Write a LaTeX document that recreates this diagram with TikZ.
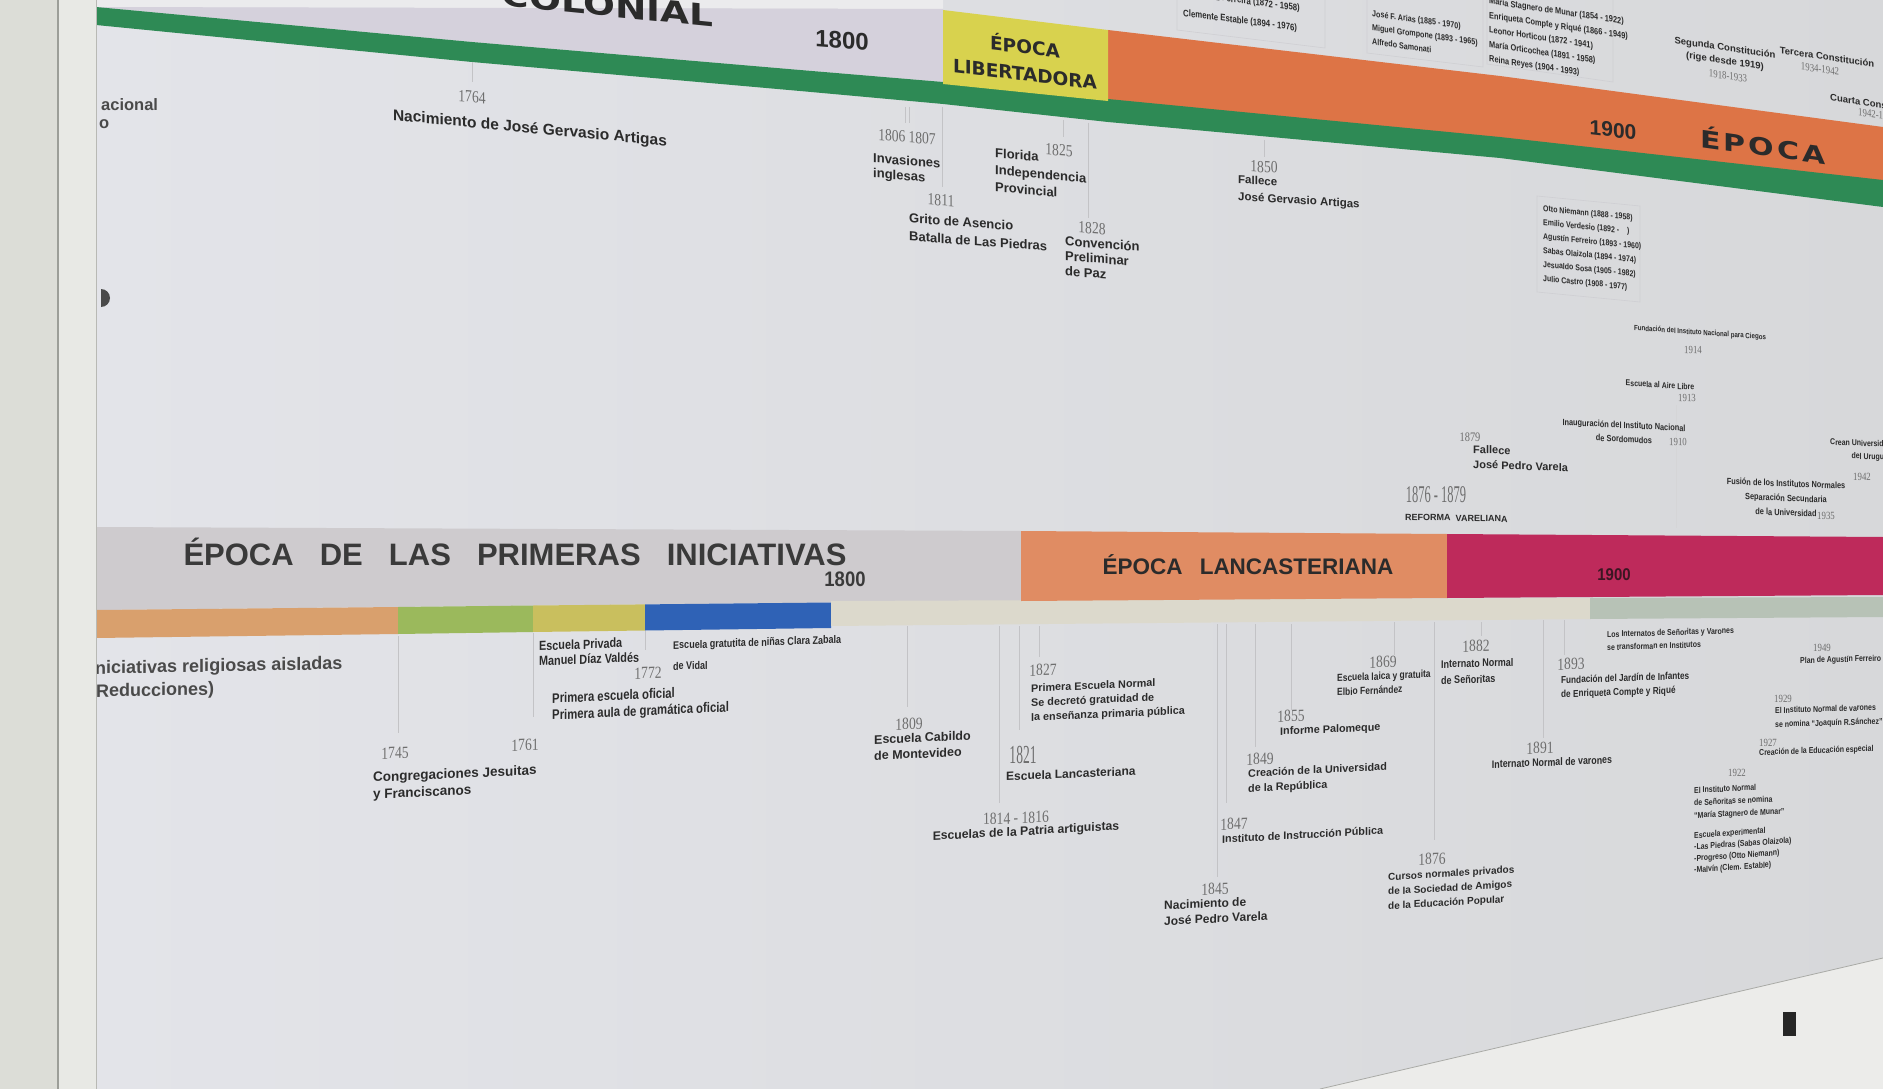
\documentclass[tikz,border=0pt]{standalone}
\usepackage{fontspec}
\usepackage{graphicx}
\setmainfont{Liberation Sans}
\newfontfamily\nar[FakeStretch=0.82]{Liberation Sans}
\newfontfamily\hdn[FakeStretch=0.88]{Liberation Sans}
\newfontfamily\yrf[FakeStretch=0.8]{Liberation Serif}
\newfontfamily\dvb{DejaVu Sans}
\newfontfamily\dvw[FakeStretch=1.25]{DejaVu Sans}
\newcommand\fsz[2]{\fontsize{#1}{#2}\selectfont}
\definecolor{wall}{HTML}{E6E7E3}
\definecolor{frameA}{HTML}{DCDDD7}
\definecolor{frameline}{HTML}{9C9E98}
\definecolor{frameB}{HTML}{E8E9E5}
\definecolor{frameedge}{HTML}{B8B9B4}
\definecolor{posterL}{HTML}{E3E4E9}
\definecolor{posterR}{HTML}{D7D8DA}
\definecolor{topw}{HTML}{EBEBED}
\definecolor{lav}{HTML}{D5D1DC}
\definecolor{yel}{HTML}{D8D24E}
\definecolor{orT}{HTML}{DD7446}
\definecolor{grn}{HTML}{2E8A55}
\definecolor{gband}{HTML}{CECBCE}
\definecolor{lancc}{HTML}{E08C63}
\definecolor{mag}{HTML}{BE2A5B}
\definecolor{sOr}{HTML}{D9A06D}
\definecolor{sGr}{HTML}{9BB95C}
\definecolor{sYe}{HTML}{C9BF5E}
\definecolor{sBl}{HTML}{2F62B6}
\definecolor{beige}{HTML}{DCD9CC}
\definecolor{gg}{HTML}{B7C2B6}
\definecolor{ink}{HTML}{2B2B2B}
\definecolor{ink2}{HTML}{4A4A4A}
\definecolor{ink3}{HTML}{3A3A3A}
\definecolor{magink}{HTML}{3B1622}
\definecolor{yrgray}{HTML}{6E6E6E}
\definecolor{tickc}{HTML}{C3C3C6}
\definecolor{boxc}{HTML}{CFCFD3}
\definecolor{tray}{HTML}{ECECEA}
\definecolor{trayline}{HTML}{A9AAA6}
\definecolor{magnet}{HTML}{4A4A4A}
\begin{document}
\begin{tikzpicture}[x=1pt,y=-1pt,
  ev/.style={inner sep=0pt,text=ink,align=left,anchor=north west},
  evc/.style={inner sep=0pt,text=ink,align=center,anchor=center},
  yr/.style={inner sep=0pt,text=yrgray,anchor=center,font=\yrf\fsz{17}{17}},
  yrs/.style={inner sep=0pt,text=yrgray,anchor=center,font=\yrf\fsz{11}{11}},
  tk/.style={draw=tickc,line width=0.7pt},
  bx/.style={draw=boxc,line width=0.6pt}]
\useasboundingbox (0,0) rectangle (1883,1089);
\clip (0,0) rectangle (1883,1089);
\fill[wall] (0,0) rectangle (1883,1089);
% poster
\shade[left color=posterL,right color=posterR] (96,0) -- (1883,0) -- (1883,958) -- (1320,1089) -- (96,1089) -- cycle;
\fill[topw] (96,0) -- (943,0) -- (943,9) -- (96,7) -- cycle;
% upper period band
\fill[lav] (96,7) -- (943,9) -- (943,82) -- (800,70) -- (472,42) -- cycle;
\fill[orT] (1108,30) -- (1500,76) -- (1883,127) -- (1883,181) -- (1500,138) -- (1108,100) -- cycle;
\fill[grn] (96,7) -- (472,42) -- (800,70) -- (943,82) -- (1108,99) -- (1500,137) -- (1883,180)
  -- (1883,207) -- (1500,158) -- (1108,122) -- (943,104) -- (800,91) -- (472,62) -- (96,25) -- cycle;
\fill[yel] (943,10) -- (1108,30) -- (1108,101) -- (943,84) -- cycle;
% name boxes
\draw[bx] (1177,0) -- (1177,30) -- (1325,48) -- (1325,0);
\draw[bx] (1367,0) -- (1367,53) -- (1483,67) -- (1483,0);
\draw[bx] (1487,0) -- (1487,64) -- (1613,82) -- (1613,0);
\draw[bx] (1537,196) -- (1537,292) -- (1640,302) -- (1640,206) -- cycle;
% upper ticks
\draw[tk] (472,62) -- (472,82);
\draw[tk] (905,107) -- (905,123);
\draw[tk] (909,107) -- (909,123);
\draw[tk] (942,107) -- (942,187);
\draw[tk] (1063,120) -- (1063,137);
\draw[tk] (1088,123) -- (1088,218);
\draw[tk] (1264,140) -- (1264,157);
\draw[tk,draw=tickc!70] (1676,405) -- (1676,528);
% upper band texts
\node[inner sep=0pt,text=ink,font=\dvw\bfseries\fsz{30}{30},anchor=base east,yslant=-0.1] (colonial) at (714,27) {COLONIAL};
\node[inner sep=0pt,text=ink,font=\bfseries\fsz{24}{24},yslant=-0.08] (y1800t) at (842,40) {1800};
\node[evc,font=\dvb\bfseries\fsz{18.5}{27},yslant=-0.12] (libert) at (1025,59) {ÉPOCA\\LIBERTADORA};
\node[inner sep=0pt,text=ink,font=\bfseries\fsz{21}{21},yslant=-0.12] (y1900t) at (1613,130) {1900};
\node[inner sep=0pt,text=ink,font=\dvw\bfseries\fsz{24}{24},yslant=-0.14] (epocaT) at (1763,145) {É\hspace{3pt}P\hspace{3pt}O\hspace{3pt}C\hspace{3pt}A};
% top names
\node[ev,anchor=north east,yslant=-0.13,font=\nar\bfseries\fsz{9.5}{14}] (vaz) at (1300,4) {Carlos Vaz Ferreira (1872 - 1958)};
\node[ev,yslant=-0.13,font=\nar\bfseries\fsz{9.5}{14}] (clem) at (1183,9) {Clemente Estable (1894 - 1976)};
\node[ev,yslant=-0.14,font=\nar\bfseries\fsz{8.7}{14}] (box2) at (1372,10) {José F. Arias (1885 - 1970)\\Miguel Grompone (1893 - 1965)\\Alfredo Samonati};
\node[ev,yslant=-0.15,font=\nar\bfseries\fsz{9}{14.5}] (box3) at (1489,-3) {María Stagnero de Munar (1854 - 1922)\\Enriqueta Compte y Riqué (1866 - 1949)\\Leonor Horticou (1872 - 1941)\\María Orticochea (1891 - 1958)\\Reina Reyes (1904 - 1993)};
\node[evc,yslant=-0.15,font=\bfseries\fsz{9.5}{13}] (seg) at (1725,55) {Segunda Constitución\\(rige desde 1919)};
\node[yrs,yslant=-0.15] (y1918) at (1728,76) {1918-1933};
\node[evc,yslant=-0.15,font=\bfseries\fsz{9.5}{13}] (ter) at (1827,57) {Tercera Constitución};
\node[yrs,yslant=-0.15] (y1934) at (1820,69) {1934-1942};
\node[ev,anchor=west,yslant=-0.15,font=\bfseries\fsz{9.5}{12}] (cua) at (1830,97) {Cuarta Constitución};
\node[yrs,anchor=west,yslant=-0.15] (y1942c) at (1858,112) {1942-1952};
% upper events
\node[ev,anchor=west,text=ink2,font=\bfseries\fsz{16.5}{18}] (acional) at (101,105) {acional};
\node[ev,anchor=west,text=ink2,font=\bfseries\fsz{16.5}{18}] (oo) at (99,124) {o};
\node[yr,yslant=-0.09] (y1764) at (472,97) {1764};
\node[evc,yslant=-0.095,font=\bfseries\fsz{15.5}{17}] (e1764) at (530,129) {Nacimiento de José Gervasio Artigas};
\node[yr,yslant=-0.08] (y1806) at (907,137) {1806\hspace{3pt}1807};
\node[ev,yslant=-0.08,font=\bfseries\fsz{13}{15}] (e1806) at (873,153) {Invasiones\\inglesas};
\node[yr,yslant=-0.08] (y1811) at (941,200) {1811};
\node[ev,yslant=-0.075,font=\bfseries\fsz{13}{18}] (e1811) at (909,213) {Grito de Asencio\\Batalla de Las Piedras};
\node[ev,yslant=-0.09,font=\bfseries\fsz{13}{17}] (e1825) at (995,148) {Florida\\Independencia\\Provincial};
\node[yr,yslant=-0.08] (y1825) at (1059,150) {1825};
\node[yr,yslant=-0.08] (y1828) at (1092,228) {1828};
\node[ev,yslant=-0.075,font=\bfseries\fsz{13}{15}] (e1828) at (1065,236) {Convención\\Preliminar\\de Paz};
\node[yr,yslant=-0.06] (y1850) at (1264,167) {1850};
\node[ev,yslant=-0.06,font=\bfseries\fsz{11.5}{17}] (e1850) at (1238,175) {Fallece\\José Gervasio Artigas};
% upper right
\node[ev,yslant=-0.1,font=\nar\bfseries\fsz{8.5}{14}] (names) at (1543,205) {Otto Niemann (1888 - 1958)\\Emilio Verdesio (1892 -\hspace{8pt})\\Agustín Ferreiro (1893 - 1960)\\Sabas Olaizola (1894 - 1974)\\Jesualdo Sosa (1905 - 1982)\\Julio Castro (1908 - 1977)};
\node[evc,yslant=-0.07,font=\nar\bfseries\fsz{7.5}{10}] (ciegos) at (1700,333) {Fundación del Instituto Nacional para Ciegos};
\node[yrs,yslant=-0.05] (y1914) at (1693,350) {1914};
\node[evc,yslant=-0.06,font=\nar\bfseries\fsz{8.5}{10}] (aire) at (1660,385) {Escuela al Aire Libre};
\node[yrs,yslant=-0.05] (y1913) at (1687,398) {1913};
\node[evc,yslant=-0.05,font=\nar\bfseries\fsz{9}{14}] (sordo) at (1624,432) {Inauguración del Instituto Nacional\\de Sordomudos};
\node[yrs,yslant=-0.05] (y1910) at (1678,442) {1910};
\node[yrs,font=\yrf\fsz{13}{13}] (y1879) at (1470,437) {1879};
\node[ev,yslant=-0.035,font=\bfseries\fsz{11}{15}] (varela) at (1473,445) {Fallece\\José Pedro Varela};
\node[yr,font=\yrf\fsz{24}{24}] (y1876r) at (1436,495) {\scalebox{0.65}[1]{1876 - 1879}};
\node[ev,anchor=west,font=\bfseries\fsz{9}{9},yslant=-0.02] (refvar) at (1405,517) {REFORMA\hspace{5pt}VARELIANA};
\node[evc,yslant=-0.04,font=\nar\bfseries\fsz{9}{14.5}] (fusion) at (1786,498) {Fusión de los Institutos Normales\\Separación Secundaria\\de la Universidad};
\node[yrs] (y1935) at (1826,516) {1935};
\node[ev,align=right,anchor=north east,yslant=-0.04,font=\nar\bfseries\fsz{8.5}{13}] (utu) at (1892,441) {Crean Universidad\\del Uruguay};
\node[yrs] (y1942u) at (1862,477) {1942};
% lower band
\fill[gband] (96,527) -- (1021,531) -- (1021,601) -- (831,602.5) -- (96,610) -- cycle;
\fill[sOr] (96,610) -- (398,607) -- (398,634) -- (96,638) -- cycle;
\fill[sGr] (398,607) -- (533,605.5) -- (533,632) -- (398,634) -- cycle;
\fill[sYe] (533,605.5) -- (645,604.4) -- (645,630.5) -- (533,632) -- cycle;
\fill[sBl] (645,604.4) -- (831,602.5) -- (831,628) -- (645,630.5) -- cycle;
\fill[beige] (831,601) -- (1590,598) -- (1590,619) -- (831,626) -- cycle;
\fill[gg] (1590,598) -- (1883,597) -- (1883,617) -- (1590,619) -- cycle;
\fill[lancc] (1021,531) -- (1447,534) -- (1447,598) -- (1021,601) -- cycle;
\fill[mag] (1447,534) -- (1883,537) -- (1883,595) -- (1447,598) -- cycle;
\node[inner sep=0pt,text=ink3,font=\bfseries\fsz{31}{31}] (pri) at (515,552) {\makebox[663pt][s]{ÉPOCA DE LAS PRIMERAS INICIATIVAS}};
\node[inner sep=0pt,text=ink3,font=\hdn\bfseries\fsz{21}{21}] (y1800b) at (845,579) {1800};
\node[inner sep=0pt,text=ink,font=\bfseries\fsz{22.5}{22.5}] (tLanc) at (1248,565) {\makebox[291pt][s]{ÉPOCA LANCASTERIANA}};
\node[inner sep=0pt,text=magink,font=\hdn\bfseries\fsz{17}{17}] (y1900b) at (1614,575) {1900};
% lower ticks
\draw[tk] (398,636) -- (398,733);
\draw[tk] (533,633) -- (533,717);
\draw[tk] (645,631) -- (645,650);
\draw[tk] (907,626) -- (907,707);
\draw[tk] (999,626) -- (999,803);
\draw[tk] (1019,626) -- (1019,730);
\draw[tk] (1039,626) -- (1039,657);
\draw[tk] (1217,624) -- (1217,877);
\draw[tk] (1226,624) -- (1226,803);
\draw[tk] (1255,624) -- (1255,747);
\draw[tk] (1291,624) -- (1291,710);
\draw[tk] (1394,622) -- (1394,655);
\draw[tk] (1434,622) -- (1434,840);
\draw[tk] (1481,622) -- (1481,636);
\draw[tk] (1543,620) -- (1543,738);
\draw[tk] (1564,620) -- (1564,655);
% lower events
\node[ev,yslant=0.02,text=ink2,font=\bfseries\fsz{18}{23}] (relig) at (90,661) {Iniciativas religiosas aisladas\\(Reducciones)};
\node[yr,yslant=0.04] (y1745) at (395,753) {1745};
\node[ev,yslant=0.045,font=\bfseries\fsz{13.5}{17}] (e1745) at (373,772) {Congregaciones Jesuitas\\y Franciscanos};
\node[yr,yslant=0.04] (y1761) at (525,745) {1761};
\node[ev,yslant=0.04,font=\nar\bfseries\fsz{13.2}{15}] (e1761) at (539,641) {Escuela Privada\\Manuel Díaz Valdés};
\node[yr,yslant=0.04] (y1772) at (648,673) {1772};
\node[ev,yslant=0.035,font=\nar\bfseries\fsz{11}{21}] (e1772b) at (673,641) {Escuela gratutita de niñas Clara Zabala\\de Vidal};
\node[ev,yslant=0.045,font=\nar\bfseries\fsz{13.8}{16.5}] (e1772) at (552,693) {Primera escuela oficial\\Primera aula de gramática oficial};
\node[yr,yslant=0.04] (y1809) at (909,724) {1809};
\node[ev,yslant=0.045,font=\bfseries\fsz{12.5}{16}] (e1809) at (874,735) {Escuela Cabildo\\de Montevideo};
\node[yr,yslant=0.04] (y1827) at (1043,670) {1827};
\node[ev,yslant=0.045,font=\bfseries\fsz{10.8}{14.5}] (e1827) at (1031,684) {Primera Escuela Normal\\Se decretó gratuidad de\\la enseñanza primaria pública};
\node[yr,font=\yrf\fsz{26}{26}] (y1821) at (1023,755) {\scalebox{0.65}[1]{1821}};
\node[ev,yslant=0.045,font=\bfseries\fsz{12}{14}] (e1821) at (1006,772) {Escuela Lancasteriana};
\node[yr,yslant=0.04] (y1814) at (1016,818) {1814 - 1816};
\node[evc,yslant=0.055,font=\bfseries\fsz{12.2}{14}] (e1814) at (1026,832) {Escuelas de la Patria artiguistas};
\node[yr,yslant=0.04] (y1845) at (1215,889) {1845};
\node[ev,yslant=0.05,font=\bfseries\fsz{12}{15.5}] (e1845) at (1164,901) {Nacimiento de\\José Pedro Varela};
\node[yr,yslant=0.04] (y1847) at (1234,824) {1847};
\node[ev,yslant=0.055,font=\bfseries\fsz{10.8}{14}] (e1847) at (1222,835) {Instituto de Instrucción Pública};
\node[yr,yslant=0.04] (y1849) at (1260,759) {1849};
\node[ev,yslant=0.05,font=\bfseries\fsz{10.8}{15}] (e1849) at (1248,769) {Creación de la Universidad\\de la República};
\node[yr,yslant=0.04] (y1855) at (1291,716) {1855};
\node[ev,yslant=0.045,font=\bfseries\fsz{10.8}{14}] (e1855) at (1280,727) {Informe Palomeque};
\node[yr,yslant=0.04] (y1869) at (1383,662) {1869};
\node[ev,yslant=0.045,font=\nar\bfseries\fsz{10.3}{14}] (e1869) at (1337,674) {Escuela laica y gratuita\\Elbio Fernández};
\node[yr,yslant=0.04] (y1882) at (1476,646) {1882};
\node[ev,yslant=0.03,font=\nar\bfseries\fsz{11}{16}] (e1882) at (1441,660) {Internato Normal\\de Señoritas};
\node[yr,yslant=0.04] (y1876) at (1432,859) {1876};
\node[ev,yslant=0.06,font=\bfseries\fsz{10}{14.5}] (e1876) at (1388,873) {Cursos normales privados\\de la Sociedad de Amigos\\de la Educación Popular};
\node[yr,yslant=0.04] (y1891) at (1540,748) {1891};
\node[evc,yslant=0.04,font=\nar\bfseries\fsz{10.8}{14}] (e1891) at (1552,762) {Internato Normal de varones};
\node[yr,yslant=0.04] (y1893) at (1571,664) {1893};
\node[ev,yslant=0.035,font=\nar\bfseries\fsz{10}{14}] (e1893) at (1561,676) {Fundación del Jardín de Infantes\\de Enriqueta Compte y Riqué};
\node[ev,yslant=0.03,font=\nar\bfseries\fsz{8.5}{13}] (e1900i) at (1607,631) {Los Internatos de Señoritas y Varones\\se transforman en Institutos};
\node[yrs] (y1949) at (1822,648) {1949};
\node[ev,yslant=0.03,font=\nar\bfseries\fsz{8.5}{12}] (e1949) at (1800,657) {Plan de Agustín Ferreiro};
\node[yrs] (y1929) at (1783,699) {1929};
\node[ev,yslant=0.03,font=\nar\bfseries\fsz{8.5}{14}] (e1929) at (1775,707) {El Instituto Normal de varones\\se nomina “Joaquín R.Sánchez”};
\node[yrs] (y1927) at (1768,743) {1927};
\node[ev,yslant=0.035,font=\nar\bfseries\fsz{8.5}{12}] (e1927) at (1759,749) {Creación de la Educación especial};
\node[yrs] (y1922) at (1737,773) {1922};
\node[ev,yslant=0.05,font=\nar\bfseries\fsz{8.5}{12.5}] (e1922) at (1694,787) {El Instituto Normal\\de Señoritas se nomina\\“María Stagnero de Munar”};
\node[ev,yslant=0.07,font=\nar\bfseries\fsz{8.5}{11.5}] (eexp) at (1694,832) {Escuela experimental\\-Las Piedras (Sabas Olaizola)\\-Progreso (Otto Niemann)\\-Malvín (Clem. Estable)};
% tray
\fill[tray] (1320,1089) -- (1883,958) -- (1883,1089) -- cycle;
\draw[trayline,line width=0.8pt] (1320,1089) -- (1883,958);
\fill[black!85] (1783,1012) rectangle (1796,1036);
% frame
\fill[frameA] (0,0) rectangle (58,1089);
\draw[frameline,line width=1.2pt] (58,0) -- (58,1089);
\fill[frameB] (59,0) rectangle (96,1089);
\draw[frameedge,line width=1pt] (96,0) -- (96,1089);
\fill[magnet] (101,307) arc[start angle=90,end angle=-90,radius=9] -- cycle;
\end{tikzpicture}
\end{document}
